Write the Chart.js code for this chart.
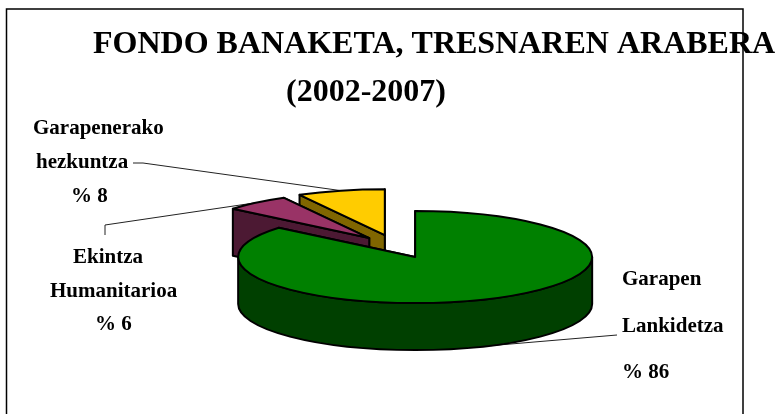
<!DOCTYPE html>
<html>
<head>
<meta charset="utf-8">
<style>
  html, body { margin: 0; padding: 0; background: #fff; }
  #wrap { position: relative; width: 779px; height: 414px; overflow: hidden; }
</style>
</head>
<body>
<div id="wrap"><canvas id="myChart" width="779" height="414"></canvas></div>
<script src="https://cdn.jsdelivr.net/npm/chart.js@4/dist/chart.umd.min.js"></script>
<script>
var categories = ["Garapen Lankidetza", "Ekintza Humanitarioa", "Garapenerako hezkuntza"];
var shares = [86, 6, 8];
var topColors = ["#008000", "#993366", "#FFCC00"];
var sideColors = ["#004000", "#4C1933", "#806600"];

var titleLines = ["FONDO BANAKETA, TRESNAREN ARABERA", "(2002-2007)"];
var sliceLabels = [
  ["Garapen", "Lankidetza", "% 86"],
  ["Ekintza", "Humanitarioa", "% 6"],
  ["Garapenerako", "hezkuntza", "% 8"]
];

// the "3d" look: flatten the pie and pull every slice away from the middle
var pieX = 396, pieY = 246.5, pieRx = 177, squash = 46 / 177, depth = 47;
var explode = [45, 42, 45];

// where text sits
var titleX = [93, 286], titleY = [53, 101];
var labelX = [[622, 622, 622], [73, 50, 95], [33, 36, 71]];
var labelY = [[285, 332, 378], [263, 297, 330], [134, 168, 202]];
// leader lines start here and run to the slice rim
var leaderStart = [[[617, 335]], [[105, 235], [105, 225]], [[133, 163], [143, 163]]];

function slicePos(arc, i) {
  var mid = (arc.startAngle + arc.endAngle) / 2;
  var scale = pieRx / arc.outerRadius;
  return {
    mid: mid,
    // apex of the slice on screen
    x: pieX + Math.cos(mid) * explode[i],
    y: pieY + Math.sin(mid) * explode[i] * squash,
    rx: pieRx,
    ry: pieRx * squash,
    scale: scale
  };
}

function rim(p, a, dy) {
  return [p.x + Math.cos(a) * p.rx, p.y + Math.sin(a) * p.ry + (dy || 0)];
}

function polygon(ctx, pts, fill) {
  ctx.beginPath();
  ctx.moveTo(pts[0][0], pts[0][1]);
  for (var i = 1; i < pts.length; i++) ctx.lineTo(pts[i][0], pts[i][1]);
  ctx.closePath();
  ctx.fillStyle = fill;
  ctx.fill();
  ctx.stroke();
}

function drawWalls(ctx, arc, p, color) {
  var s = arc.startAngle, e = arc.endAngle;
  // the two cut faces, the one at the end angle is the hidden one
  [e, s].forEach(function(a) {
    var r = rim(p, a), r2 = rim(p, a, depth);
    polygon(ctx, [[p.x, p.y], r, r2, [p.x, p.y + depth]], color);
  });
  // outer wall, only the part facing us
  var from = Math.max(s, 0), to = Math.min(e, Math.PI);
  if (to > from) {
    ctx.beginPath();
    ctx.ellipse(p.x, p.y, p.rx, p.ry, 0, from, to);
    ctx.ellipse(p.x, p.y + depth, p.rx, p.ry, 0, to, from, true);
    ctx.closePath();
    ctx.fillStyle = color;
    ctx.fill();
    ctx.stroke();
  }
}

function drawTop(ctx, chart, arc, p) {
  // fill comes from the arc element itself, squeezed by the transform
  ctx.save();
  ctx.translate(p.x, p.y);
  ctx.scale(p.scale, p.scale * squash);
  ctx.translate(-arc.x, -arc.y);
  arc.draw(ctx);
  ctx.restore();
  // outline apart so the line width is not squeezed too
  ctx.beginPath();
  ctx.moveTo(p.x, p.y);
  ctx.ellipse(p.x, p.y, p.rx, p.ry, 0, arc.startAngle, arc.endAngle);
  ctx.closePath();
  ctx.stroke();
}

var pie3d = {
  id: "pie3d",
  beforeDatasetsDraw: function(chart) {
    var ctx = chart.ctx;
    var arcs = chart.getDatasetMeta(0).data;
    ctx.save();

    // frame, the bottom edge falls outside the picture
    ctx.strokeStyle = "#000";
    ctx.lineWidth = 1.5;
    ctx.strokeRect(6.5, 9, 736.5, 420);

    // leader lines go under the slices
    ctx.lineWidth = 1;
    ctx.strokeStyle = "#222";
    arcs.forEach(function(arc, i) {
      var p = slicePos(arc, i);
      var end = rim(p, p.mid, Math.sin(p.mid) > 0 ? depth : 0);
      ctx.beginPath();
      leaderStart[i].forEach(function(pt, j) {
        if (j === 0) ctx.moveTo(pt[0], pt[1]);
        else ctx.lineTo(pt[0], pt[1]);
      });
      ctx.lineTo(end[0], end[1]);
      ctx.stroke();
    });

    // back to front
    ctx.strokeStyle = "#000";
    ctx.lineWidth = 2;
    ctx.lineJoin = "round";
    [2, 1, 0].forEach(function(i) {
      var p = slicePos(arcs[i], i);
      drawWalls(ctx, arcs[i], p, sideColors[i]);
      drawTop(ctx, chart, arcs[i], p);
    });

    // texts
    ctx.fillStyle = "#000";
    ctx.textAlign = "left";
    ctx.textBaseline = "alphabetic";
    ctx.font = "bold 32px 'Liberation Serif'";
    titleLines.forEach(function(t, i) {
      ctx.fillText(t, titleX[i], titleY[i]);
    });
    ctx.font = "bold 21px 'Liberation Serif'";
    sliceLabels.forEach(function(lines, i) {
      lines.forEach(function(t, j) {
        ctx.fillText(t, labelX[i][j], labelY[i][j]);
      });
    });
    ctx.restore();
    return false;
  }
};

var chart = document.getElementById("myChart");
var myChart = new Chart(chart, {
  type: "pie",
  data: {
    labels: categories,
    datasets: [{
      data: shares,
      backgroundColor: topColors,
      borderWidth: 0
    }]
  },
  options: {
    responsive: false,
    animation: false,
    rotation: 0,
    layout: { padding: { left: 200, right: 200, top: 30, bottom: 30 } },
    plugins: {
      legend: { display: false },
      title: { display: false },
      tooltip: { enabled: false }
    }
  },
  plugins: [pie3d]
});
</script>
</body>
</html>
